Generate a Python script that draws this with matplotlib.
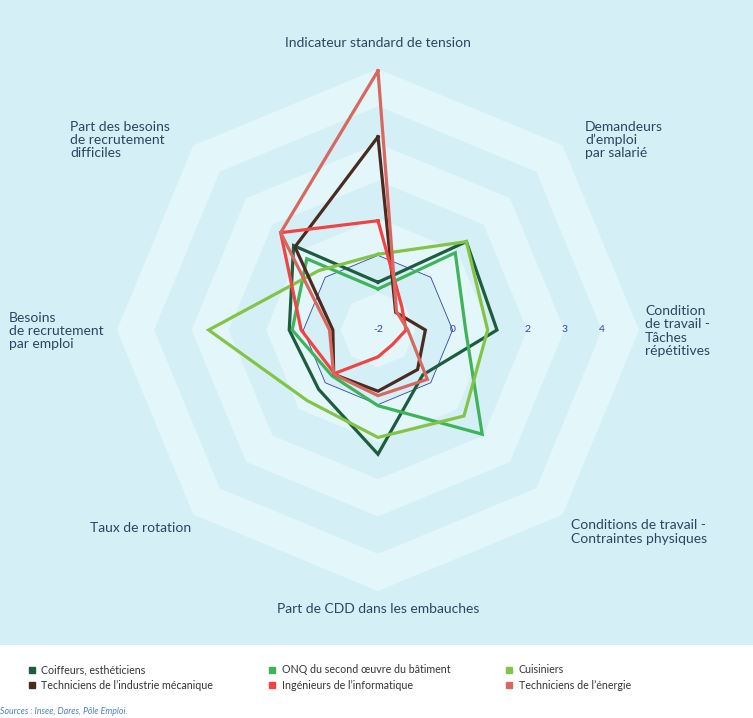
import numpy as np
import matplotlib
matplotlib.use("Agg")
import matplotlib.pyplot as plt
from matplotlib.patches import Polygon, Rectangle
from matplotlib.lines import Line2D

plt.rcParams['font.family'] = ['Lato', 'DejaVu Sans']

# axes of the radar, clockwise from the top
AXES = [
    "Indicateur standard de tension",
    "Demandeurs\nd’emploi\npar salarié",
    "Condition\nde travail -\nTâches\nrépétitives",
    "Conditions de travail -\nContraintes physiques",
    "Part de CDD dans les embauches",
    "Taux de rotation",
    "Besoins\nde recrutement\npar emploi",
    "Part des besoins\nde recrutement\ndifficiles",
]

SERIES = [
    "Coiffeurs, esthéticiens",
    "ONQ du second œuvre du bâtiment",
    "Cuisiniers",
    "Techniciens de l’industrie mécanique",
    "Ingénieurs de l’informatique",
    "Techniciens de l’énergie",
]

coiffeurs = [-0.72, 1.35, 1.19, -0.30, 1.33, 0.25, 0.38, 1.20]
onq = [-0.90, 0.93, 0.35, 1.95, 0.03, -0.26, 0.30, 0.70]
cuisiniers = [0.03, 1.35, 0.94, 1.26, 0.88, 0.68, 2.54, 0.25]
tech_meca = [3.18, -1.33, -0.73, -0.50, -0.36, -0.32, -0.79, 1.15]
ing_info = [0.93, -1.10, -1.25, -1.45, -1.28, -0.35, 0.06, 1.69]
tech_energie = [4.95, -1.30, -1.20, -0.13, -0.24, -0.32, -0.70, 1.69]

TICKS = [-2, 0, 2, 3, 4]
R_MIN, R_MAX = -2, 5

COLORS = ["#1e5c3e", "#3fb35a", "#84c444", "#4b2a20", "#f04444", "#d8675f"]
BG = "#d4f0f6"
BAND = "#e3f6fa"
TXT = "#2f4360"

W, H = 753, 718
CX, CY = 378, 330       # centre of the radar in pixels
PX = 37.3               # pixels per unit

fig = plt.figure(figsize=(W / 100, H / 100), dpi=100)
fig.patch.set_facecolor("white")
fig.patches.append(Rectangle((0, 1 - 645 / H), 1, 645 / H, transform=fig.transFigure,
                             facecolor=BG, edgecolor="none", zorder=-5))

ax = fig.add_axes([0, 0, 1, 1])
ax.set_xlim(-CX / PX, (W - CX) / PX)
ax.set_ylim(-(H - CY) / PX, CY / PX)
ax.axis("off")

theta = np.arange(len(AXES)) * 2 * np.pi / len(AXES)


def to_xy(vals):
    r = np.asarray(vals, dtype=float) - R_MIN
    return r * np.sin(theta), r * np.cos(theta)


# alternating octagonal bands
for i, v in enumerate(range(R_MAX, R_MIN, -1)):
    x, y = to_xy([v] * len(AXES))
    ax.add_patch(Polygon(np.column_stack([x, y]), closed=True,
                         facecolor=BAND if i % 2 == 0 else BG, edgecolor="none", zorder=1))

# zero reference
x0, y0 = to_xy([0] * len(AXES))
ax.plot(np.append(x0, x0[0]), np.append(y0, y0[0]), color="#3444a6", lw=0.6, zorder=2)

for t in TICKS:
    ax.text(t - R_MIN, 0, str(t), ha="center", va="center", fontsize=7.5,
            color="#3444a6", zorder=2)

for vals, c in zip([coiffeurs, onq, cuisiniers, tech_meca, ing_info, tech_energie], COLORS):
    x, y = to_xy(vals)
    ax.plot(np.append(x, x[0]), np.append(y, y[0]), color=c, lw=2.3,
            solid_joinstyle="miter", zorder=3)

# axis labels
label_pos = [
    (378, 43, "center"), (585, 140, "left"), (645, 331, "left"), (571, 532, "left"),
    (378, 609, "center"), (191, 528, "right"), (9, 331, "left"), (70, 140, "left"),
]
for lab, (px, py, ha) in zip(AXES, label_pos):
    fig.text(px / W, 1 - py / H, lab, ha=ha, va="center", fontsize=10,
             color=TXT, linespacing=1.12, multialignment="left")

# legend (matplotlib fills columns first)
order = [0, 3, 1, 4, 2, 5]
handles = [Line2D([], [], marker="s", ls="", color=COLORS[i], markersize=5) for i in order]
fig.legend(handles, [SERIES[i] for i in order], ncol=3, loc="upper left",
           bbox_to_anchor=(23 / W, 1 - 659 / H), frameon=False, fontsize=7.7,
           handlelength=0.7, handletextpad=0.5, columnspacing=5.2,
           labelspacing=0.45, borderpad=0, labelcolor="#333333")

fig.text(0, 1 - 711 / H, "Sources : Insee, Dares, Pôle Emploi.", fontsize=6.3,
         style="italic", color="#4a80c4", va="center", ha="left")

fig.savefig("out.png", dpi=100)
